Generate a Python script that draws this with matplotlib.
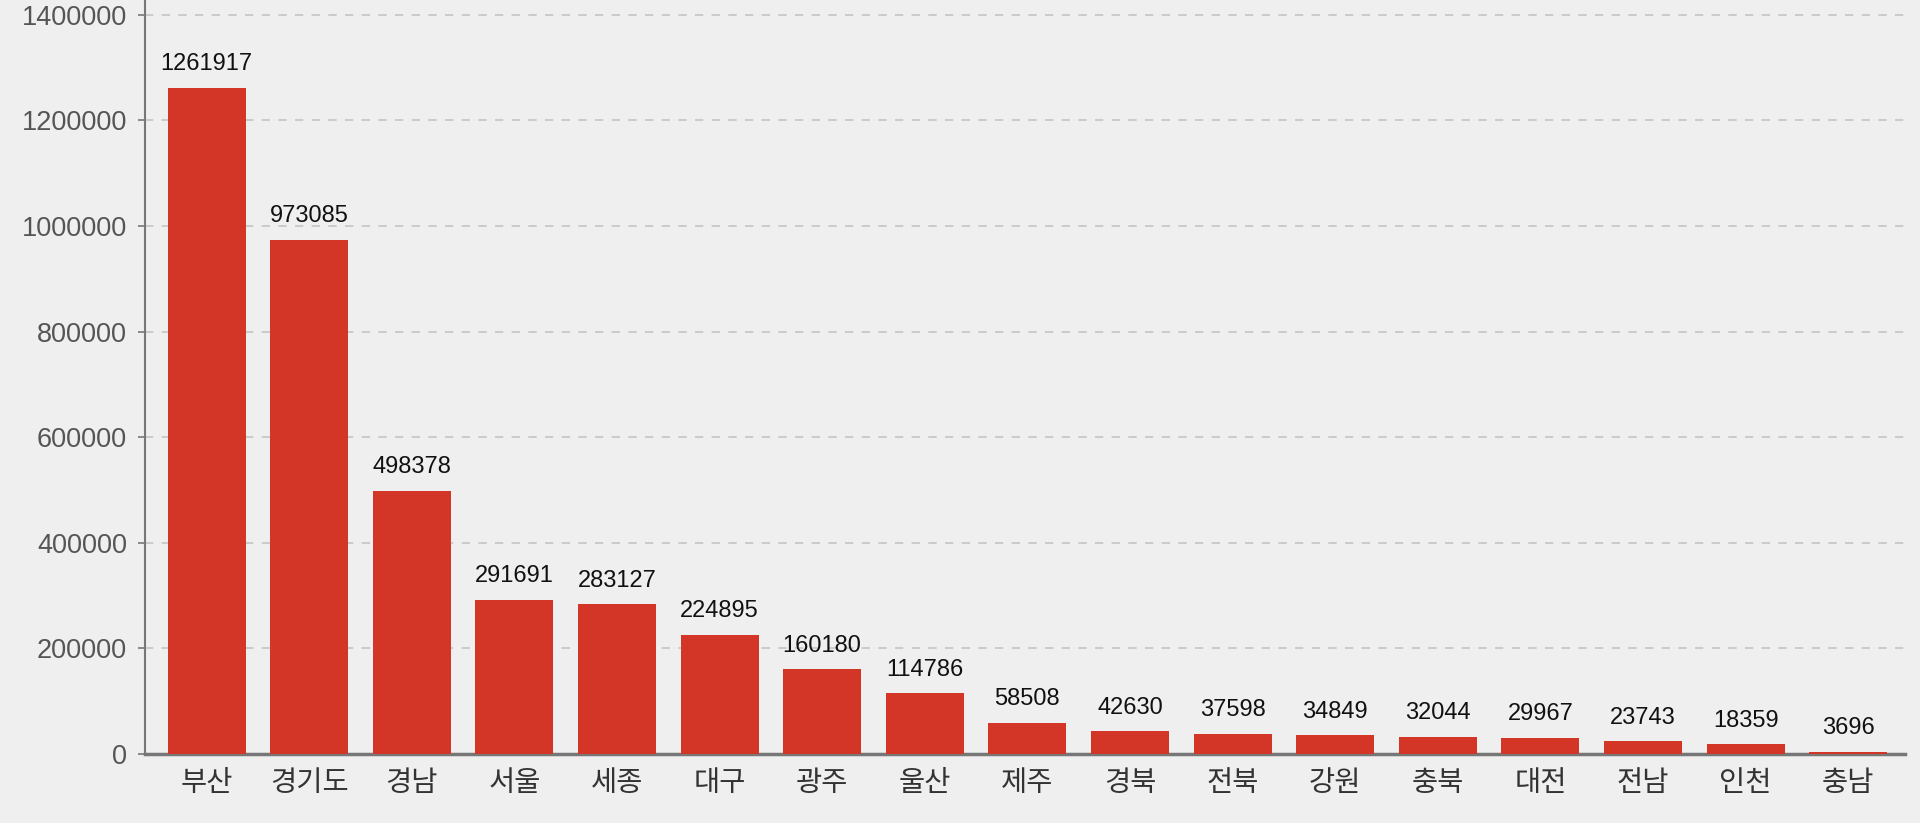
import matplotlib
matplotlib.use('Agg')
import matplotlib.pyplot as plt
import matplotlib.ticker as ticker

# 지역별 값
regions = ['부산', '경기도', '경남', '서울', '세종', '대구', '광주', '울산', '제주',
           '경북', '전북', '강원', '충북', '대전', '전남', '인천', '충남']
values = [1261917, 973085, 498378, 291691, 283127, 224895, 160180, 114786, 58508,
          42630, 37598, 34849, 32044, 29967, 23743, 18359, 3696]

plt.rcParams['font.family'] = ['Noto Sans CJK KR', 'DejaVu Sans']

bg = '#eeefee'
bar_color = '#d33526'

fig = plt.figure(figsize=(19.2, 8.23), dpi=100)
fig.patch.set_facecolor(bg)
ax = fig.add_axes([0.0755, 0.084, 0.9165, 0.916])
ax.set_facecolor(bg)

x = range(len(regions))
bars = ax.bar(x, values, width=0.76, color=bar_color, zorder=3)

for xi, v in zip(x, values):
    ax.text(xi, v + 24000, str(v), ha='center', va='bottom',
            fontsize=17, color='#111111', family=['Liberation Sans', 'DejaVu Sans'])

# ── Axes ───────────────────────────────────────────────
ax.set_xlim(-0.6, 16.55)
ax.set_ylim(0, 1428000)
ax.yaxis.set_major_locator(ticker.MultipleLocator(200000))
ax.yaxis.set_major_formatter(ticker.FuncFormatter(lambda v, p: f'{int(v)}'))
ax.set_xticks(list(x))
ax.set_xticklabels(regions, fontsize=20.5, color='#333333')

for lbl in ax.get_yticklabels():
    lbl.set_fontsize(19.5)
    lbl.set_color('#555555')
    lbl.set_family(['Liberation Sans', 'DejaVu Sans'])

ax.tick_params(axis='x', length=0, pad=10)
ax.tick_params(axis='y', length=5, width=1.2, color='#777777', pad=8)

ax.grid(axis='y', linestyle=(0, (5, 5)), color='#c4c4c4', linewidth=1.2, zorder=0)

for s in ['top', 'right']:
    ax.spines[s].set_visible(False)
ax.spines['left'].set_color('#777777')
ax.spines['left'].set_linewidth(1.5)
ax.spines['bottom'].set_color('#777777')
ax.spines['bottom'].set_linewidth(2.5)

plt.savefig('out.png', dpi=100, facecolor=bg)
